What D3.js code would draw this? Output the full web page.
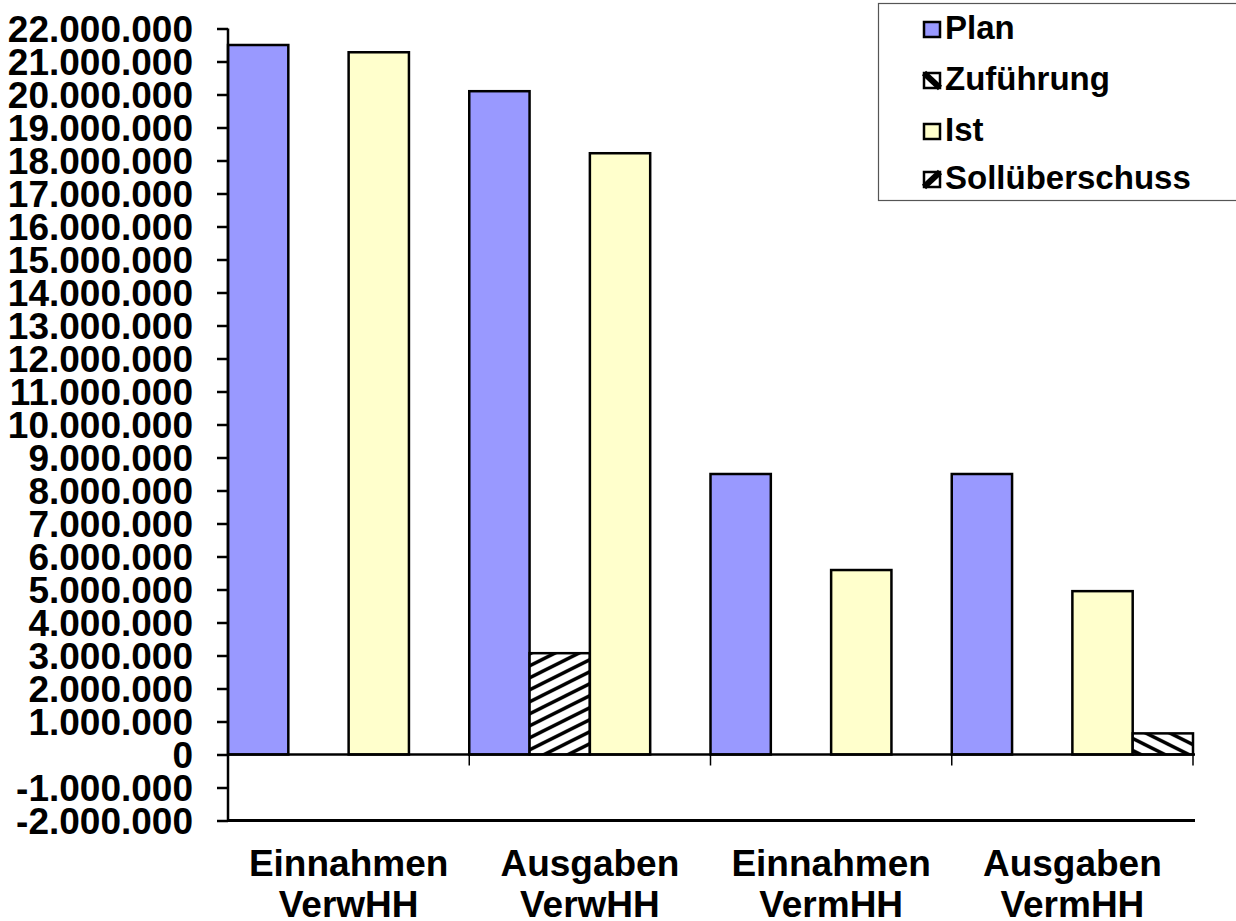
<!DOCTYPE html>
<html>
<head>
<meta charset="utf-8">
<script src="https://cdn.jsdelivr.net/npm/d3@7"></script>
<style>
  html, body { margin: 0; padding: 0; background: #fff; }
  svg { display: block; }
  text { font-family: "Liberation Sans", Arial, sans-serif; font-weight: bold; fill: #000; }
</style>
</head>
<body>
<svg id="chart" width="1236" height="921"></svg>
<script>
const categories = [["Einnahmen", "VerwHH"], ["Ausgaben", "VerwHH"], ["Einnahmen", "VermHH"], ["Ausgaben", "VermHH"]];
const seriesNames = ["Plan", "Zuführung", "Ist", "Sollüberschuss"];
const plan = [21500000, 20100000, 8500000, 8500000];
const zufuehrung = [null, 3070000, null, null];
const ist = [21280000, 18220000, 5590000, 4950000];
const sollueberschuss = [null, null, null, 640000];
const yTicks = d3.range(-2000000, 22000001, 1000000);

const seriesValues = [plan, zufuehrung, ist, sollueberschuss];
const fills = ["#9999ff", "url(#hatchUp)", "#ffffcc", "url(#hatchDown)"];

const svg = d3.select("#chart");
const pLeft = 228, pRight = 1193, pTop = 28.5, pBottom = 820.5;

const y = d3.scaleLinear().domain([-2000000, 22000000]).range([pBottom, pTop]);
const x0 = d3.scaleBand().domain(d3.range(categories.length)).range([pLeft, pRight]).padding(0);
const x1 = d3.scaleBand().domain(d3.range(seriesNames.length)).range([0, x0.bandwidth()]).padding(0);

// patterns
const defs = svg.append("defs");
const pu = defs.append("pattern").attr("id", "hatchUp").attr("patternUnits", "userSpaceOnUse")
  .attr("width", 24).attr("height", 12);
pu.append("rect").attr("width", 24).attr("height", 12).attr("fill", "#fff");
pu.append("path").attr("d", "M-24,12 L24,-12 M0,12 L24,0 M0,24 L48,0 M-24,24 L24,0")
  .attr("stroke", "#000").attr("stroke-width", 3.5);
const pd = defs.append("pattern").attr("id", "hatchDown").attr("patternUnits", "userSpaceOnUse")
  .attr("width", 24).attr("height", 12);
pd.append("rect").attr("width", 24).attr("height", 12).attr("fill", "#fff");
pd.append("path").attr("d", "M0,0 L24,12 M-24,0 L24,24 M0,-12 L48,12 M-24,-12 L24,12")
  .attr("stroke", "#000").attr("stroke-width", 3.5);

// bars
categories.forEach((c, gi) => {
  const g = svg.append("g").attr("transform", `translate(${x0(gi)},0)`);
  seriesValues.forEach((vals, si) => {
    const v = vals[gi];
    if (v == null) return;
    g.append("rect")
      .attr("x", x1(si))
      .attr("width", x1.bandwidth())
      .attr("y", y(Math.max(0, v)))
      .attr("height", Math.abs(y(v) - y(0)))
      .attr("fill", fills[si])
      .attr("stroke", "#000")
      .attr("stroke-width", 2.5);
  });
});

// y axis
const yAxis = d3.axisLeft(y).tickValues(yTicks).tickSize(11).tickPadding(24)
  .tickFormat(d => d3.format(",")(d).replace(/,/g, ".").replace(/\u2212/g, "-"));
const ya = svg.append("g").attr("transform", `translate(${pLeft},0)`).call(yAxis);
ya.select(".domain").attr("stroke", "#000").attr("stroke-width", 2.5).attr("d", `M0,${pTop}V${pBottom}`);
ya.selectAll(".tick line").attr("stroke", "#000").attr("stroke-width", 2.5);
ya.selectAll(".tick text").attr("font-size", 37).attr("font-weight", "bold")
  .attr("font-family", '"Liberation Sans", Arial, sans-serif').attr("fill", "#000").attr("dy", "0.36em");

// zero line with category ticks
const xa = d3.axisBottom(x0).tickValues([]).tickSize(0);
const za = svg.append("g").attr("transform", `translate(0,${y(0)})`).call(xa);
za.select(".domain").attr("stroke", "#000").attr("stroke-width", 2.5).attr("d", `M${pLeft},0H${pRight + 2}`);
const boundaries = d3.range(categories.length + 1).map(i => i < categories.length ? x0(i) : x0(i - 1) + x0.bandwidth());
za.selectAll(".ctick").data(boundaries).join("line").attr("class", "ctick")
  .attr("x1", d => d).attr("x2", d => d).attr("y1", 0).attr("y2", 11)
  .attr("stroke", "#000").attr("stroke-width", 1.5);

// bottom border
svg.append("line").attr("x1", pLeft).attr("x2", pRight + 2).attr("y1", pBottom).attr("y2", pBottom)
  .attr("stroke", "#000").attr("stroke-width", 3);

// category labels
categories.forEach((c, gi) => {
  const cx = x0(gi) + x0.bandwidth() / 2;
  const t = svg.append("text").attr("text-anchor", "middle").attr("font-size", 37);
  t.append("tspan").attr("x", cx).attr("y", 876).text(c[0]);
  t.append("tspan").attr("x", cx).attr("y", 917).text(c[1]);
});

// legend
const lg = svg.append("g");
lg.append("rect").attr("x", 878.5).attr("y", 3.5).attr("width", 400).attr("height", 197)
  .attr("fill", "#fff").attr("stroke", "#555").attr("stroke-width", 1.2);
const legendBase = [39, 90, 141, 189];
seriesNames.forEach((name, i) => {
  const by = legendBase[i];
  const sy = by - 17;
  if (i === 0 || i === 2) {
    lg.append("rect").attr("x", 924).attr("y", sy).attr("width", 16).attr("height", 15)
      .attr("fill", i === 0 ? "#9999ff" : "#ffffcc").attr("stroke", "#000").attr("stroke-width", 2.5);
  } else {
    lg.append("rect").attr("x", 924).attr("y", sy).attr("width", 16).attr("height", 15)
      .attr("fill", "#fff").attr("stroke", "#000").attr("stroke-width", 2.5);
    const d = i === 1 ? `M924,${sy} L940,${sy + 15}` : `M924,${sy + 15} L940,${sy}`;
    lg.append("path").attr("d", d).attr("stroke", "#000").attr("stroke-width", 6);
  }
  lg.append("text").attr("x", 945).attr("y", by).attr("font-size", 33).text(name);
});
</script>
</body>
</html>
